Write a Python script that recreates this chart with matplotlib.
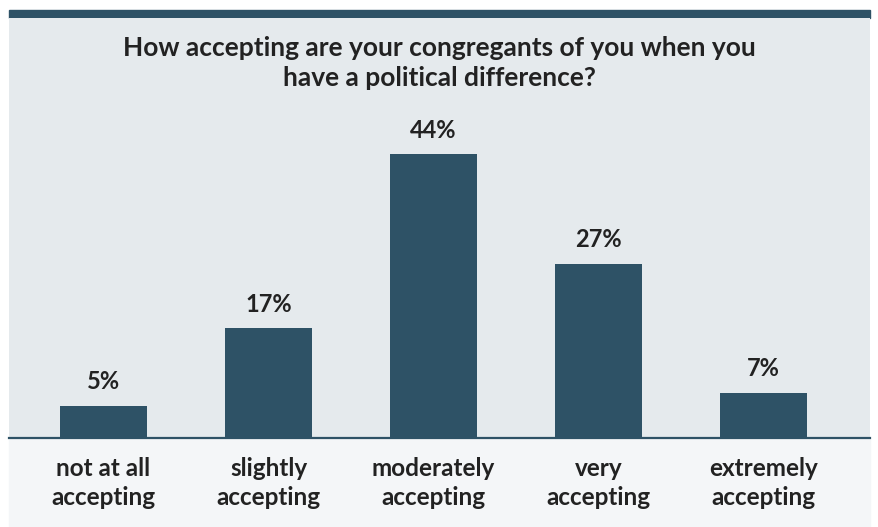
import matplotlib
matplotlib.use("Agg")
import matplotlib.pyplot as plt
from matplotlib.patches import Rectangle

categories = ["not at all\naccepting", "slightly\naccepting", "moderately\naccepting",
              "very\naccepting", "extremely\naccepting"]
values = [5, 17, 44, 27, 7]
value_labels = ["5%", "17%", "44%", "27%", "7%"]
title = "How accepting are your congregants of you when you\nhave a political difference?"

W, H = 879, 527
BAR = "#2e5266"
PANEL = "#e5eaed"
LOWER = "#f4f6f8"
TEXT = "#222222"

plt.rcParams["font.family"] = ["Lato", "DejaVu Sans"]

fig = plt.figure(figsize=(W / 100, H / 100), dpi=100, facecolor="white")

def fx(px):
    return px / W

def fy(py):
    return 1 - py / H

left, right, top, base = 9, 870, 18, 438

# header band and lower label panel
fig.patches.append(Rectangle((fx(left), fy(top)), fx(right - left), (top - 10) / H,
                             transform=fig.transFigure, color=BAR, zorder=-2))
fig.patches.append(Rectangle((fx(left), 0), fx(right - left), fy(base),
                             transform=fig.transFigure, color=LOWER, zorder=-2))

ax = fig.add_axes([fx(left), fy(base), fx(right - left), (base - top) / H])
ax.set_facecolor(PANEL)

x = list(range(len(values)))
ax.bar(x, values, width=0.527, color=BAR, zorder=2)
ymax = 44 * (base - top) / (base - 154)
ax.set_ylim(0, ymax)
ax.set_xlim((left - 103.5) / 165, (right - 103.5) / 165)

for xi, v, lab in zip(x, values, value_labels):
    ax.annotate(lab, (xi, v), xytext=(0, 9), textcoords="offset points",
                ha="center", va="bottom", fontsize=17, fontweight="bold", color=TEXT)

for s in ["top", "left", "right"]:
    ax.spines[s].set_visible(False)
ax.spines["bottom"].set_color(BAR)
ax.spines["bottom"].set_linewidth(1.6)
ax.set_yticks([])
ax.set_xticks(x)
ax.set_xticklabels(categories, fontsize=17.5, fontweight="bold", color=TEXT, linespacing=1.3)
ax.tick_params(axis="x", length=0, pad=14)

fig.text(0.5, fy(63), title, ha="center", va="center", fontsize=19, fontweight="bold",
         color=TEXT, linespacing=1.3)

fig.savefig("out.png", dpi=100, facecolor="white")
